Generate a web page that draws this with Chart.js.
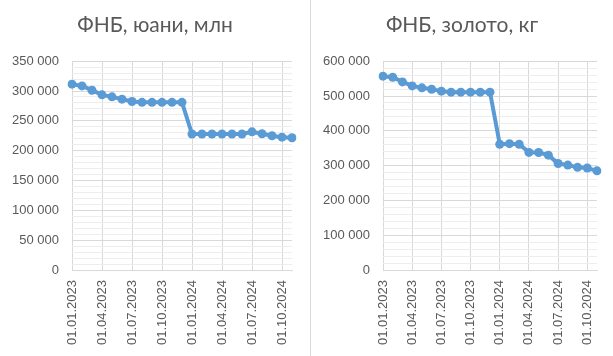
<!DOCTYPE html>
<html>
<head>
<meta charset="utf-8">
<script src="https://cdn.jsdelivr.net/npm/chart.js@4/dist/chart.umd.min.js"></script>
<style>
html,body{margin:0;padding:0;background:#fff;}
#wrap{position:relative;width:613px;height:356px;overflow:hidden;}
#p1{position:absolute;left:0;top:0;width:310px;height:356px;}
#div{position:absolute;left:310px;top:0;width:1px;height:356px;background:#d9d9d9;}
#p2{position:absolute;left:311px;top:0;width:302px;height:356px;}
</style>
</head>
<body>
<div id="wrap">
  <div id="p1"><canvas id="c1" width="310" height="356"></canvas></div>
  <div id="div"></div>
  <div id="p2"><canvas id="c2" width="302" height="356"></canvas></div>
</div>
<script>
const dates = ["01.01.2023","01.02.2023","01.03.2023","01.04.2023","01.05.2023","01.06.2023",
  "01.07.2023","01.08.2023","01.09.2023","01.10.2023","01.11.2023","01.12.2023",
  "01.01.2024","01.02.2024","01.03.2024","01.04.2024","01.05.2024","01.06.2024",
  "01.07.2024","01.08.2024","01.09.2024","01.10.2024","01.11.2024"];
const yuanValues = [311500,308600,301400,293600,290200,286400,282500,281000,281000,281000,281000,281000,
  228000,228000,228000,228000,228000,228000,231600,228300,225000,222700,221600];
const goldValues = [557000,554000,540500,529000,523500,519500,514000,511000,511000,511000,511000,511000,
  361500,363000,361500,338000,337500,330000,306000,301500,295000,293000,285000];
const yuanTitle = "ФНБ, юани, млн";
const goldTitle = "ФНБ, золото, кг";
const yuanAxis = {max:350000, major:50000, minor:10000};
const goldAxis = {max:600000, major:100000, minor:20000};

function fmt(v){ return String(v).replace(/\B(?=(\d{3})+(?!\d))/g, " "); }
const TXT = "#595959";
const tickFont = {family:"'Liberation Sans', Arial, sans-serif", size:13};

function makeChart(id, title, values, ax, rightPad){
  return new Chart(document.getElementById(id), {
    type:'line',
    data:{labels:dates, datasets:[{data:values, borderColor:'#5B9BD5', backgroundColor:'#5B9BD5',
      borderWidth:4, pointRadius:4.5, pointBorderWidth:0, pointBackgroundColor:'#5B9BD5', tension:0, yAxisID:'y'}]},
    options:{
      responsive:false, animation:false,
      layout:{padding:{left:0,right:0,top:0,bottom:0}},
      plugins:{legend:{display:false}, tooltip:{enabled:false},
        title:{display:true, text:title, color:TXT,
          font:{family:"Lato, 'Open Sans', sans-serif", size:21, weight:'normal'},
          padding:{top:13,bottom:23}}},
      scales:{
        x:{type:'category', offset:false,
          grid:{offset:false, drawTicks:false, color:(c)=> (c.index%3===0 ? '#d9d9d9' : 'rgba(0,0,0,0)'), lineWidth:1},
          border:{display:true, color:'#d9d9d9'},
          ticks:{autoSkip:false, maxRotation:90, minRotation:90, padding:10, color:TXT, font:tickFont,
            callback:function(v,i){ return i%3===0 ? this.getLabelForValue(v) : ''; }},
          afterFit:(s)=>{ s.height = 86; s.paddingRight = 0; s.paddingLeft = 0; }},
        y:{min:0, max:ax.max, position:'left',
          grid:{drawTicks:false, color:(c)=> (c.tick && c.tick.value%ax.major===0 ? '#d9d9d9' : '#ededed')},
          border:{display:false},
          ticks:{stepSize:ax.minor, autoSkip:false, padding:13, color:TXT, font:tickFont,
            callback:(v)=> (v%ax.major===0 ? fmt(v) : '')},
          afterFit:(s)=>{ s.width = 72; }},
        y2:{type:'linear', position:'right', display:true,
          grid:{display:false, drawTicks:false}, border:{display:false},
          ticks:{display:false},
          afterFit:(s)=>{ s.width = rightPad; }}
      }
    }
  });
}
makeChart('c1', yuanTitle, yuanValues, yuanAxis, 18);
makeChart('c2', goldTitle, goldValues, goldAxis, 16);
</script>
</body>
</html>
